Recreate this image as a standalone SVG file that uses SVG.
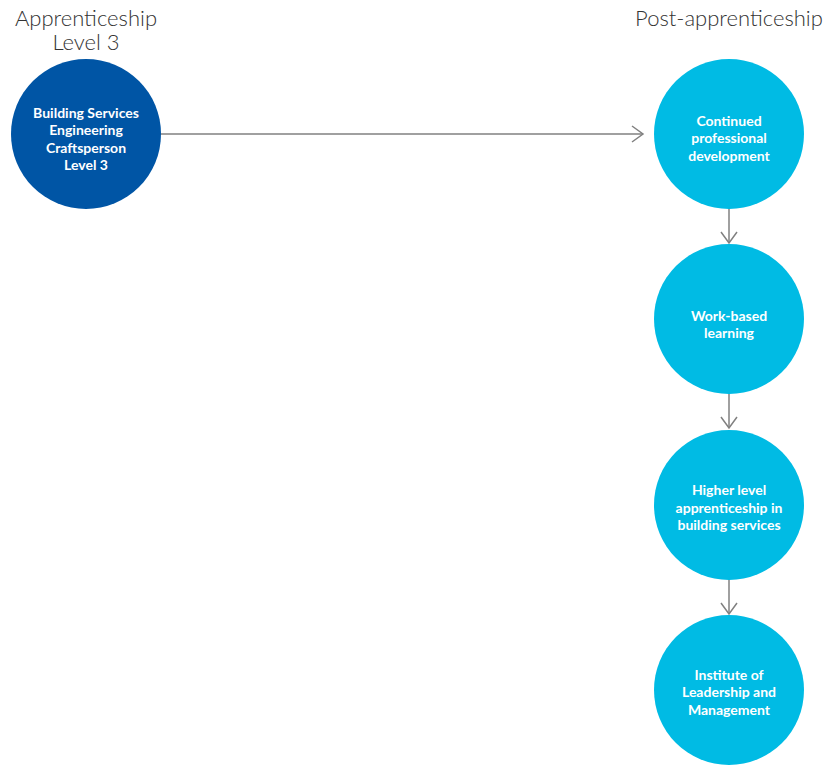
<svg xmlns="http://www.w3.org/2000/svg" width="827" height="765" viewBox="0 0 827 765">
<style>
.hd{font-family:Lato,"Open Sans","Liberation Sans",sans-serif;font-weight:300;font-size:22px;fill:#333333;text-anchor:middle}
.lb{font-family:Lato,"Open Sans","Liberation Sans",sans-serif;font-weight:700;font-size:14px;fill:#ffffff;text-anchor:middle}
.dark{fill:#0055a5}
.light{fill:#00bbe4}
.con{stroke:#808080;stroke-width:1.5;fill:none}
</style>
<defs>
<marker id="arr" markerWidth="14" markerHeight="20" refX="12" refY="10" orient="auto" markerUnits="userSpaceOnUse">
<path d="M1,2 L12,10 L1,18" fill="none" stroke="#808080" stroke-width="1.5"/>
</marker>
</defs>
<rect width="827" height="765" fill="#ffffff"/>
<text class="hd" x="86" y="26">Apprenticeship</text>
<text class="hd" x="86" y="50">Level 3</text>
<text class="hd" x="729" y="26">Post-apprenticeship</text>
<g id="connectors">
<line class="con" x1="161" y1="134" x2="643" y2="134" marker-end="url(#arr)"/>
<line class="con" x1="729" y1="209" x2="729" y2="243" marker-end="url(#arr)"/>
<line class="con" x1="729" y1="394" x2="729" y2="428" marker-end="url(#arr)"/>
<line class="con" x1="729" y1="580" x2="729" y2="614" marker-end="url(#arr)"/>
</g>
<g id="n1">
<circle class="dark" cx="86" cy="134" r="75"/>
<text class="lb" x="86" y="118">Building Services</text>
<text class="lb" x="86" y="135">Engineering</text>
<text class="lb" x="86" y="153">Craftsperson</text>
<text class="lb" x="86" y="170">Level 3</text>
</g>
<g id="n2">
<circle class="light" cx="729" cy="134" r="75"/>
<text class="lb" x="729" y="126">Continued</text>
<text class="lb" x="729" y="143">professional</text>
<text class="lb" x="729" y="161">development</text>
</g>
<g id="n3">
<circle class="light" cx="729" cy="319" r="75"/>
<text class="lb" x="729" y="321">Work-based</text>
<text class="lb" x="729" y="338">learning</text>
</g>
<g id="n4">
<circle class="light" cx="729" cy="505" r="75"/>
<text class="lb" x="729" y="495">Higher level</text>
<text class="lb" x="729" y="513">apprenticeship in</text>
<text class="lb" x="729" y="530">building services</text>
</g>
<g id="n5">
<circle class="light" cx="729" cy="690" r="75"/>
<text class="lb" x="729" y="680">Institute of</text>
<text class="lb" x="729" y="697">Leadership and</text>
<text class="lb" x="729" y="715">Management</text>
</g>
</svg>
